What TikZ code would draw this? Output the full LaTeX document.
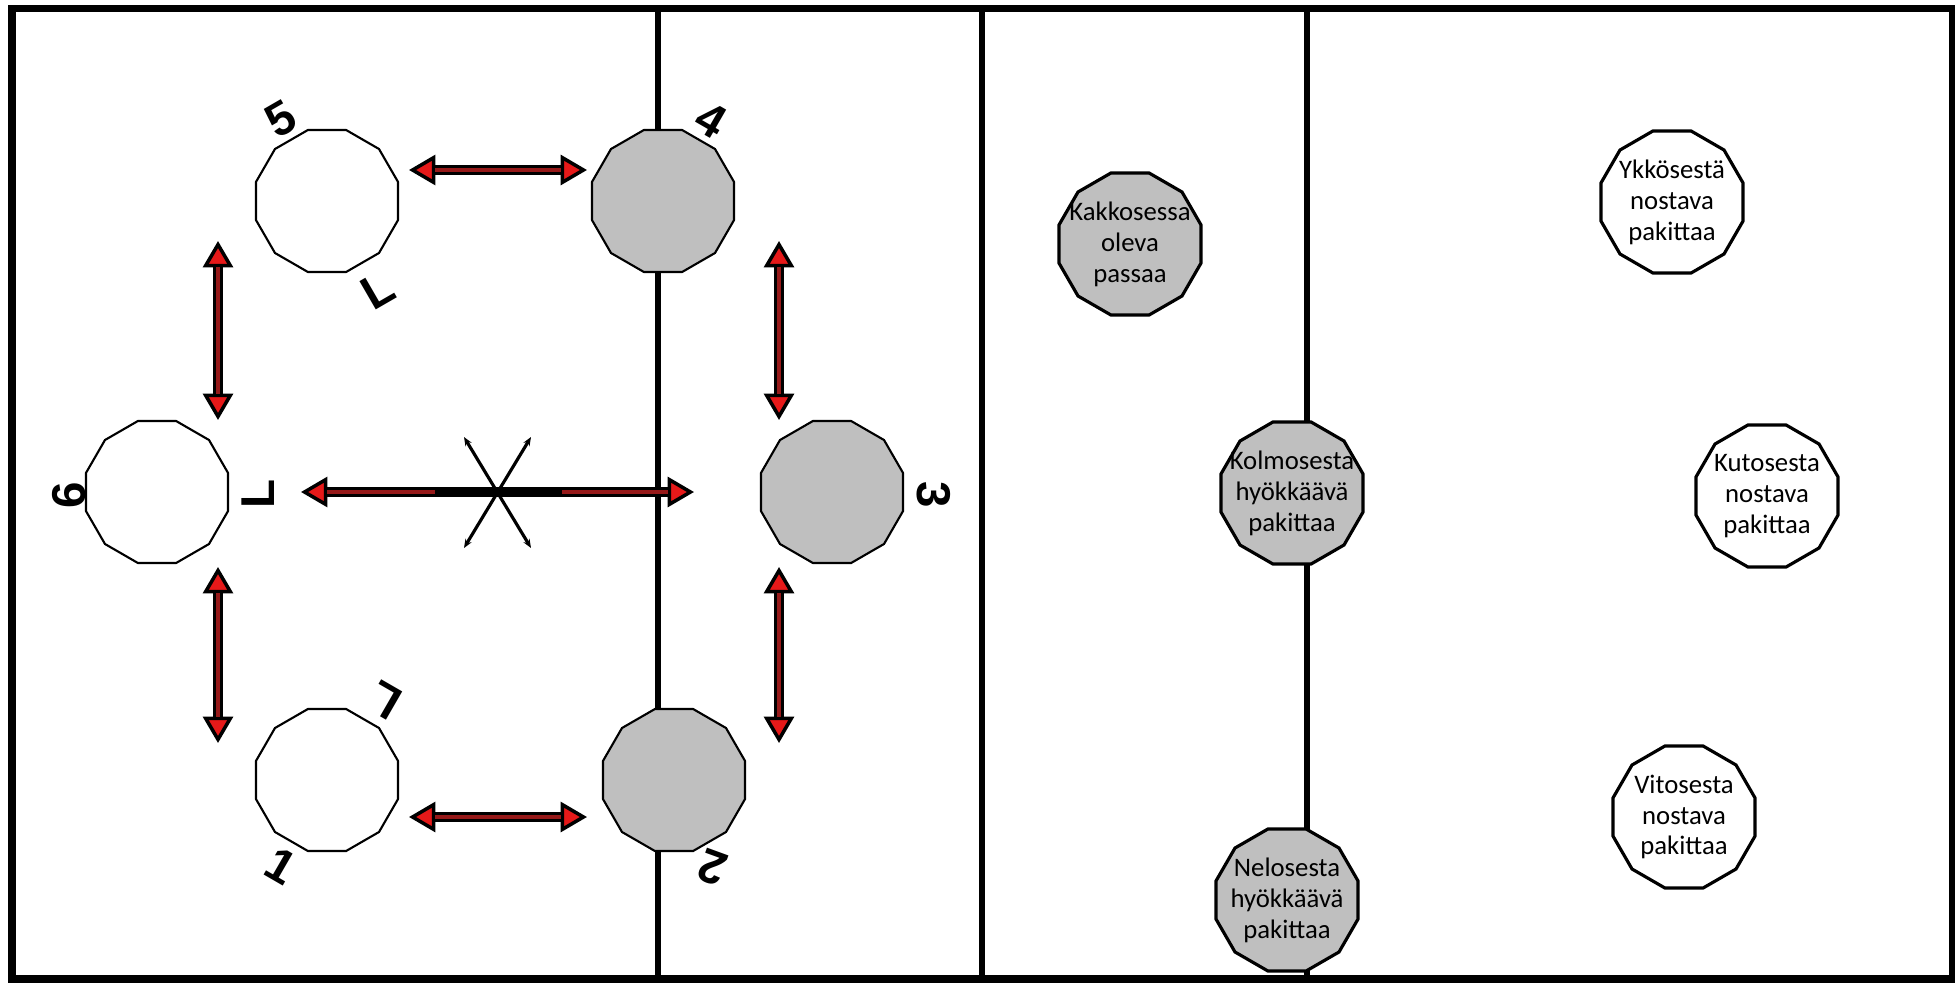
\documentclass[tikz,border=0pt]{standalone}
\usepackage{fontspec}
\setmainfont{Carlito}
\newfontfamily\numfont{Liberation Sans}
\usetikzlibrary{shapes.geometric,arrows.meta}
\definecolor{courtgray}{RGB}{191,191,191}
\definecolor{tipred}{RGB}{230,25,25}
\definecolor{shaftred}{RGB}{150,25,25}
\begin{document}
\begin{tikzpicture}[x=0.01cm, y=-0.01cm,
  player/.style = {shape=regular polygon, regular polygon sides=12,
    minimum size=1.47cm, inner sep=0pt, draw, line width=0.6pt, fill=white},
  front/.style = {player, fill=courtgray},
  says/.style = {player, line width=0.9pt,
    label={[align=center, font=\fontsize{7.6}{8.8}\selectfont]center:#1}},
  num/.style = {font=\numfont\bfseries\fontsize{13.5}{13.5}\selectfont, inner sep=0pt},
  swap/.style = {{Triangle[fill=tipred, line width=1pt, length=7.5pt, width=8.5pt]}-{Triangle[fill=tipred, line width=1pt, length=7.5pt, width=8.5pt]},
    line width=3pt, postaction={draw=shaftred, line width=1.1pt, -, shorten <=7.5pt, shorten >=7.5pt}},
  cross/.style = {{Stealth[length=2.5pt, width=2pt]}-{Stealth[length=2.5pt, width=2pt]}, line width=0.9pt}]
  \useasboundingbox (0,0) rectangle (1955,982);
  \draw[line width=1.5pt] (658,8) -- (658,979);
  \draw[line width=1.7pt] (982,8) -- (982,979);
  \draw[line width=1.5pt] (1307,8) -- (1307,979);
  \draw[line width=2pt] (12,8.5) rectangle (1952,979);

  \node[player] (viisi) at (327,201) {};
  \node[front] (nelja) at (663,201) {};
  \node[player] (kuusi) at (157,492) {};
  \node[front] (kolme) at (832,492) {};
  \node[player] (yksi) at (327,780) {};
  \node[front] (kaksi) at (674,780) {};

  \node[num, rotate=30] (n5) at (281,119) {5};
  \node[num, rotate=30] (l5) at (378,290) {L};
  \node[num, rotate=-30] (n4) at (711,120) {4};
  \node[num, rotate=90] (n6) at (69,495) {6};
  \node[num, rotate=90] (l6) at (258,494) {L};
  \node[num, rotate=-90] (n3) at (934,495) {3};
  \node[num, rotate=150] (l1) at (385,700) {L};
  \node[num, rotate=-30] (n1) at (281,866) {1};
  \node[num, rotate=160] (n2) at (712,868) {2};

  \coordinate (ylavasen) at (409,170);
  \coordinate (ylaoikea) at (587,170);
  \coordinate (alavasen) at (409,817);
  \coordinate (alaoikea) at (587,817);
  \coordinate (vas1) at (218,241);
  \coordinate (vas2) at (218,420);
  \coordinate (vas3) at (218,567);
  \coordinate (vas4) at (218,743);
  \coordinate (oik1) at (779,241);
  \coordinate (oik2) at (779,420);
  \coordinate (oik3) at (779,567);
  \coordinate (oik4) at (779,743);
  \coordinate (keskivas) at (301,492);
  \coordinate (keskioik) at (694,492);
  \coordinate (musta1) at (435,492);
  \coordinate (musta2) at (562,492);
  \coordinate (x1) at (464,437);
  \coordinate (x2) at (531,548);
  \coordinate (x3) at (531,437);
  \coordinate (x4) at (464,548);

  \draw[swap] (ylavasen) -- (ylaoikea);
  \draw[swap] (alavasen) -- (alaoikea);
  \draw[swap] (vas1) -- (vas2);
  \draw[swap] (vas3) -- (vas4);
  \draw[swap] (oik1) -- (oik2);
  \draw[swap] (oik3) -- (oik4);
  \draw[swap] (keskivas) -- (keskioik);
  \draw[line width=3pt] (musta1) -- (musta2);
  \draw[cross] (x1) -- (x2);
  \draw[cross] (x3) -- (x4);

  \node[says={Kakkosessa\\oleva\\passaa}, fill=courtgray] (passari) at (1130,244) {};
  \node[says={Kolmosesta\\hyökkäävä\\pakittaa}, fill=courtgray] (kolmonen) at (1292,493) {};
  \node[says={Nelosesta\\hyökkäävä\\pakittaa}, fill=courtgray] (nelonen) at (1287,900) {};
  \node[says={Ykkösestä\\nostava\\pakittaa}] (ykkonen) at (1672,202) {};
  \node[says={Kutosesta\\nostava\\pakittaa}] (kutonen) at (1767,496) {};
  \node[says={Vitosesta\\nostava\\pakittaa}] (vitonen) at (1684,817) {};
\end{tikzpicture}
\end{document}
